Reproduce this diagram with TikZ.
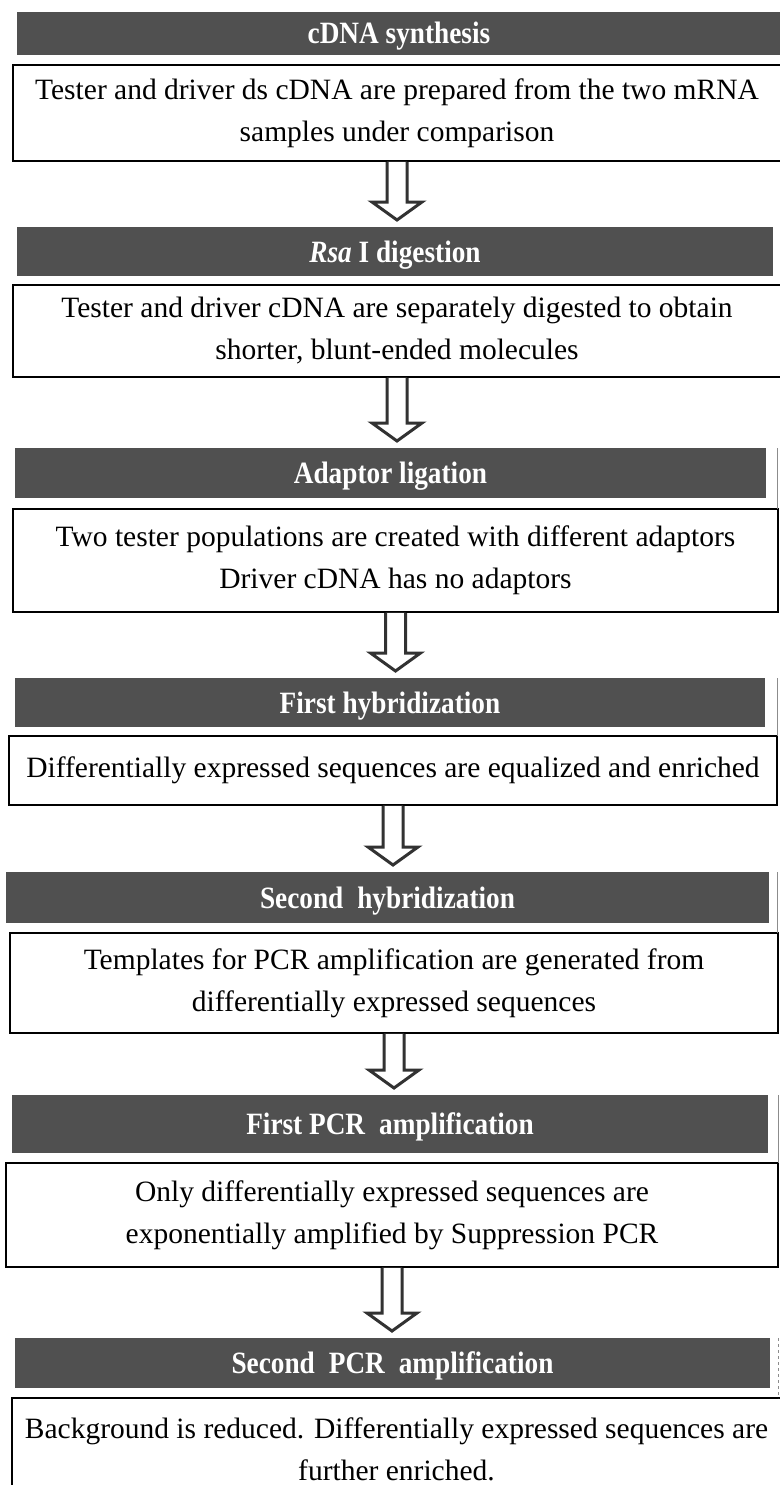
\documentclass[tikz,border=0pt]{standalone}
\usepackage{fontspec}
\setmainfont{Liberation Serif}
\newfontfamily\hdrfont[FakeStretch=0.88]{Liberation Serif}
\usetikzlibrary{calc}
\definecolor{barfill}{RGB}{80,80,80}
\definecolor{arrowline}{RGB}{50,50,50}
\newcommand\hollowdown[2]{%
  \path[harrow] let \p1=(#1.south), \p2=(#2.north) in
    (\x1-10pt,\y1-0.8pt) -- (\x1-10pt,\y2+25pt) -- (\x1-25pt,\y2+25pt) --
    (\x1,\y2+7pt) -- (\x1+25pt,\y2+25pt) -- (\x1+10pt,\y2+25pt) -- (\x1+10pt,\y1-0.8pt);}
\begin{document}
\begin{tikzpicture}[x=1pt,y=-1pt,
  hdr/.style={fill=barfill, draw=none, inner sep=0pt, outer sep=0pt, text=white,
    font=\hdrfont\fontsize{31}{34}\selectfont\bfseries, text height=21pt, text depth=0pt},
  stepbox/.style={draw=black, line width=1.5pt, fill=white, inner sep=0pt, outer sep=0pt,
    align=center, font=\fontsize{29.5}{42}\selectfont},
  harrow/.style={draw=arrowline, line width=3pt, fill=white, line join=miter},
  rimline/.style={draw=black!45, line width=1pt}]
\useasboundingbox[fill=white] (0,0) rectangle (779,1485);

% header bars
\node[hdr, minimum width=764pt, minimum height=43pt] (h1) at (399,33.5) {cDNA synthesis};
\node[hdr, minimum width=756pt, minimum height=49pt] (h2) at (395,251.5) {\textit{Rsa} I digestion};
\node[hdr, minimum width=751pt, minimum height=50pt] (h3) at (390.5,473) {Adaptor ligation};
\node[hdr, minimum width=750pt, minimum height=49pt] (h4) at (390,702.5) {First hybridization};
\node[hdr, minimum width=763pt, minimum height=51pt] (h5) at (387.5,897.5) {Second\hspace{0.45em}hybridization};
\node[hdr, minimum width=756pt, minimum height=58pt] (h6) at (390,1124) {First PCR\hspace{0.45em}amplification};
\node[hdr, minimum width=755pt, minimum height=50pt] (h7) at (392.5,1363) {Second\hspace{0.45em}PCR\hspace{0.45em}amplification};

% description boxes
\node[stepbox, minimum width=768pt, minimum height=96pt] (b1) at (397,113)
  {Tester and driver ds cDNA are prepared from the two mRNA\\samples under comparison};
\node[stepbox, minimum width=768pt, minimum height=92pt] (b2) at (397,331)
  {Tester and driver cDNA are separately digested to obtain\\shorter, blunt-ended molecules};
\node[stepbox, minimum width=765pt, minimum height=103pt] (b3) at (395.5,560.5)
  {Two tester populations are created with different adaptors\\Driver cDNA has no adaptors};
\node[stepbox, minimum width=768pt, minimum height=69pt] (b4) at (393,770.5)
  {Differentially expressed sequences are equalized and enriched};
\node[stepbox, minimum width=768pt, minimum height=100pt] (b5) at (394,983)
  {Templates for PCR amplification are generated from\\differentially expressed sequences};
\node[stepbox, minimum width=772pt, minimum height=104pt] (b6) at (392,1215)
  {Only differentially expressed sequences are\\exponentially amplified by Suppression PCR};
\node[stepbox, minimum width=769pt, minimum height=102pt] (b7) at (396.5,1449)
  {Background is reduced. Differentially expressed sequences are\\further enriched.};

% thin rim lines at the right
\coordinate (r3) at (777,448);  \coordinate (r3b) at (777,509);
\coordinate (r4) at (777,678);  \coordinate (r4b) at (777,736);
\coordinate (r5) at (777,872);  \coordinate (r5b) at (777,933);
\coordinate (r6) at (778,1095); \coordinate (r6b) at (778,1163);
\coordinate (r7) at (778,1338); \coordinate (r7b) at (778,1398);
\draw[rimline] (r3) -- (r3b);
\draw[rimline] (r4) -- (r4b);
\draw[rimline] (r5) -- (r5b);
\draw[rimline] (r6) -- (r6b);
\draw[rimline, dashed] (r7) -- (r7b);

% hollow arrows
\hollowdown{b1}{h2}
\hollowdown{b2}{h3}
\hollowdown{b3}{h4}
\hollowdown{b4}{h5}
\hollowdown{b5}{h6}
\hollowdown{b6}{h7}
\end{tikzpicture}
\end{document}
